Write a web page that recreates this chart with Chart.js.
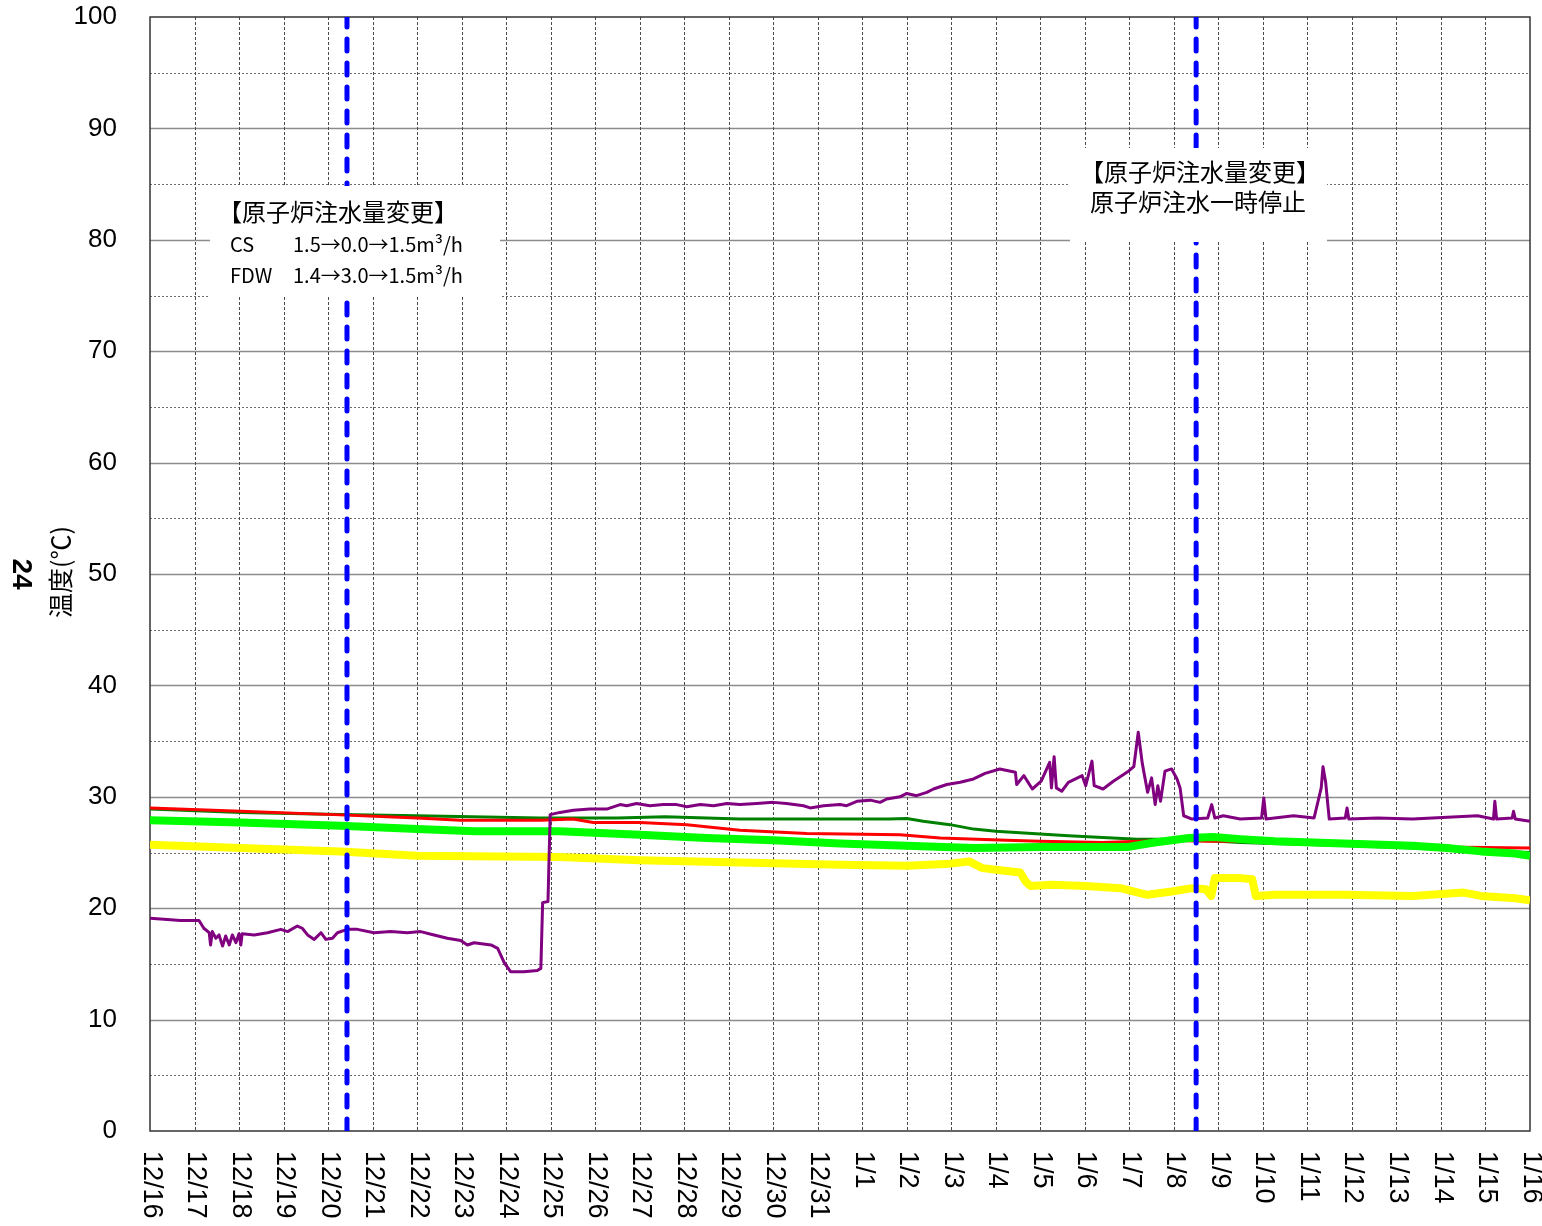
<!DOCTYPE html>
<html>
<head>
<meta charset="utf-8">
<script src="https://cdn.jsdelivr.net/npm/chart.js@4/dist/chart.umd.min.js"></script>
<style>
  html, body { margin: 0; padding: 0; background: #fff; }
  #wrap { width: 1542px; height: 1226px; }
</style>
</head>
<body>
<div id="wrap"><canvas id="chart" width="1542" height="1226"></canvas></div>
<script>
// x = days since 12/16 0:00, y = temperature (℃)
const dateLabels = ['12/16', '12/17', '12/18', '12/19', '12/20', '12/21', '12/22', '12/23', '12/24', '12/25',
  '12/26', '12/27', '12/28', '12/29', '12/30', '12/31', '1/1', '1/2', '1/3', '1/4', '1/5', '1/6', '1/7', '1/8',
  '1/9', '1/10', '1/11', '1/12', '1/13', '1/14', '1/15', '1/16'];
const yTicks = [0, 10, 20, 30, 40, 50, 60, 70, 80, 90, 100];

const purpleSeries = [[0, 19.1], [0.31, 19.0], [0.69, 18.9], [1.10, 18.9], [1.21, 18.2], [1.33, 17.8], [1.36, 16.7],
  [1.40, 17.9], [1.48, 17.3], [1.55, 17.6], [1.63, 16.6], [1.70, 17.5], [1.78, 16.7], [1.85, 17.6], [1.93, 16.9],
  [2.0, 17.7], [2.04, 16.7], [2.07, 17.7], [2.34, 17.6], [2.64, 17.8], [2.94, 18.1], [3.09, 17.9], [3.31, 18.4],
  [3.42, 18.2], [3.54, 17.6], [3.69, 17.2], [3.84, 17.8], [3.95, 17.2], [4.10, 17.3], [4.21, 17.8], [4.43, 18.1],
  [4.66, 18.1], [5.03, 17.8], [5.41, 17.9], [5.78, 17.8], [6.08, 17.9], [6.38, 17.6], [6.68, 17.3], [6.98, 17.1],
  [7.13, 16.7], [7.28, 16.9], [7.66, 16.7], [7.81, 16.4], [7.96, 15.1], [8.10, 14.3], [8.40, 14.3], [8.70, 14.4],
  [8.78, 14.6], [8.82, 20.5], [8.94, 20.6], [8.99, 28.4], [9.21, 28.6], [9.51, 28.8], [9.88, 28.9], [10.26, 28.9],
  [10.56, 29.3], [10.71, 29.2], [10.93, 29.4], [11.23, 29.2], [11.53, 29.3], [11.83, 29.3], [12.06, 29.1],
  [12.36, 29.3], [12.66, 29.2], [12.96, 29.4], [13.25, 29.3], [13.63, 29.4], [14.0, 29.5], [14.3, 29.4],
  [14.68, 29.2], [14.83, 29.0], [15.13, 29.2], [15.5, 29.3], [15.65, 29.2], [15.88, 29.6], [16.18, 29.7],
  [16.4, 29.5], [16.55, 29.8], [16.85, 30.0], [17.0, 30.3], [17.22, 30.1], [17.45, 30.4], [17.6, 30.7],
  [17.9, 31.1], [18.2, 31.3], [18.5, 31.6], [18.76, 32.1], [19.09, 32.5], [19.44, 32.2], [19.47, 31.1],
  [19.63, 31.9], [19.82, 30.7], [20.02, 31.4], [20.21, 33.1], [20.25, 30.8], [20.31, 33.6], [20.36, 30.8],
  [20.48, 30.5], [20.63, 31.3], [20.94, 31.9], [21.02, 31.0], [21.16, 33.2], [21.21, 31.0], [21.41, 30.7],
  [21.64, 31.4], [21.98, 32.3], [22.10, 32.7], [22.20, 35.8], [22.29, 33.0], [22.41, 30.4], [22.50, 31.7],
  [22.58, 29.3], [22.64, 31.0], [22.70, 29.6], [22.80, 32.3], [22.95, 32.5], [23.07, 31.6], [23.14, 30.8],
  [23.22, 28.3], [23.41, 28.0], [23.76, 28.1], [23.85, 29.3], [23.92, 28.1], [24.11, 28.3], [24.49, 28.0],
  [24.97, 28.1], [25.02, 29.9], [25.07, 28.0], [25.69, 28.3], [26.15, 28.1], [26.31, 30.8], [26.35, 32.7],
  [26.41, 31.3], [26.49, 28.0], [26.85, 28.1], [26.89, 29.0], [26.93, 28.0], [27.58, 28.1], [28.36, 28.0],
  [29.82, 28.3], [30.18, 28.0], [30.21, 29.6], [30.25, 28.0], [30.60, 28.1], [30.63, 28.7], [30.67, 28.0],
  [31.0, 27.8]];

const redSeries = [[0, 29.0], [2.04, 28.7], [4.13, 28.4], [6.0, 28.1], [6.98, 27.9], [8.78, 27.9], [9.5, 28.0],
  [9.96, 27.7], [11.0, 27.7], [12.06, 27.5], [13.25, 27.0], [14.75, 26.7], [16.85, 26.6], [17.75, 26.3],
  [19.25, 26.1], [20.0, 26.0], [21.4, 25.9], [22.95, 26.1], [23.7, 26.0], [24.5, 26.0], [27.0, 25.8],
  [29.0, 25.5], [31.0, 25.4]];

const darkGreenSeries = [[0, 28.9], [2.04, 28.6], [4.28, 28.4], [6.0, 28.3], [8.76, 28.1], [10.5, 28.1],
  [11.57, 28.2], [13.25, 28.0], [16.6, 28.0], [17.0, 28.05], [17.37, 27.8], [17.97, 27.5], [18.5, 27.1],
  [19.0, 26.9], [20.63, 26.5], [22.18, 26.2], [23.2, 26.2], [24.5, 25.9], [27.0, 25.6], [31.0, 25.0]];

const greenSeries = [[0, 27.9], [2.04, 27.7], [4.28, 27.4], [6.0, 27.1], [7.3, 26.9], [9.2, 26.9], [11.0, 26.6],
  [12.5, 26.3], [14.0, 26.1], [15.5, 25.8], [17.0, 25.6], [18.5, 25.4], [20.0, 25.5], [21.98, 25.5],
  [22.56, 25.9], [23.34, 26.3], [23.88, 26.4], [24.5, 26.2], [25.27, 26.0], [26.81, 25.8], [28.36, 25.6],
  [29.13, 25.4], [29.9, 25.1], [30.67, 24.9], [31.0, 24.7]];

const yellowSeries = [[0, 25.7], [2.04, 25.4], [4.28, 25.1], [6.0, 24.7], [9.2, 24.6], [11.0, 24.3], [13.25, 24.1],
  [15.5, 23.9], [17.0, 23.8], [17.97, 24.0], [18.4, 24.2], [18.7, 23.6], [19.1, 23.4], [19.55, 23.2],
  [19.67, 22.4], [19.78, 22.0], [20.25, 22.1], [21.02, 22.0], [21.8, 21.8], [22.4, 21.2], [22.95, 21.5],
  [23.41, 21.8], [23.72, 21.7], [23.84, 21.1], [23.92, 22.7], [24.49, 22.7], [24.76, 22.6], [24.84, 21.1],
  [25.27, 21.2], [26.04, 21.2], [26.81, 21.2], [28.36, 21.1], [29.51, 21.4], [29.9, 21.1], [30.67, 20.9],
  [31.0, 20.7]];

// injection change events (blue dashed lines)
const eventDays = [4.425, 23.5];

const note1Lines = ['【原子炉注水量変更】', 'CS', '1.5→0.0→1.5m³/h', 'FDW', '1.4→3.0→1.5m³/h'];
const note2Lines = ['【原子炉注水量変更】', '原子炉注水一時停止'];

const toXY = (arr) => arr.map(([d, v]) => ({ x: d, y: v }));

const JP = '"Noto Sans CJK JP", "Liberation Sans", sans-serif';
const LAT = '"Liberation Sans", "Noto Sans CJK JP", sans-serif';

const gridPlugin = {
  id: 'sheetGrid',
  beforeDatasetsDraw(chart) {
    const { ctx, chartArea: a, scales: { x, y } } = chart;
    ctx.save();
    for (let v = 5; v < 100; v += 5) {
      const py = Math.round(y.getPixelForValue(v)) + 0.5;
      if (v % 10 === 0) {
        ctx.setLineDash([]);
        ctx.strokeStyle = '#8c8c8c';
        ctx.lineWidth = 1.5;
      } else {
        ctx.setLineDash([2, 2]);
        ctx.strokeStyle = '#6e6e6e';
        ctx.lineWidth = 1;
      }
      ctx.beginPath();
      ctx.moveTo(a.left, py);
      ctx.lineTo(a.right, py);
      ctx.stroke();
    }
    ctx.setLineDash([3, 2]);
    ctx.strokeStyle = '#4a4a4a';
    ctx.lineWidth = 1;
    for (let d = 1; d < dateLabels.length - 1; d++) {
      const px = Math.round(x.getPixelForValue(d)) + 0.5;
      ctx.beginPath();
      ctx.moveTo(px, a.top);
      ctx.lineTo(px, a.bottom);
      ctx.stroke();
    }
    ctx.setLineDash([]);
    ctx.strokeStyle = '#333';
    ctx.lineWidth = 1.5;
    ctx.strokeRect(a.left, a.top, a.right - a.left, a.bottom - a.top);
    ctx.restore();
  }
};

const notePlugin = {
  id: 'notes',
  afterDatasetsDraw(chart) {
    const ctx = chart.ctx;
    ctx.save();
    ctx.fillStyle = '#fff';
    ctx.fillRect(210, 186, 290, 111);
    ctx.fillRect(1070, 148, 257, 94);
    ctx.fillStyle = '#000';
    ctx.textBaseline = 'middle';
    ctx.textAlign = 'left';
    ctx.font = '24px ' + JP;
    ctx.fillText(note1Lines[0], 218, 212);
    ctx.font = '20px ' + JP;
    ctx.fillText(note1Lines[1], 230, 244);
    ctx.fillText(note1Lines[2], 293, 244);
    ctx.fillText(note1Lines[3], 230, 275);
    ctx.fillText(note1Lines[4], 293, 275);
    ctx.font = '24px ' + JP;
    ctx.fillText(note2Lines[0], 1080, 172);
    ctx.fillText(note2Lines[1], 1090, 202);
    ctx.restore();
  }
};

const labelPlugin = {
  id: 'axisLabels',
  afterDraw(chart) {
    const { ctx, scales: { x } } = chart;
    ctx.save();
    ctx.fillStyle = '#000';
    ctx.font = '27px ' + LAT;
    ctx.textAlign = 'left';
    ctx.textBaseline = 'middle';
    dateLabels.forEach((lab, i) => {
      ctx.save();
      ctx.translate(x.getPixelForValue(i) + 1, 1151);
      ctx.rotate(Math.PI / 2);
      ctx.fillText(lab, 0, 0);
      ctx.restore();
    });
    // axis title
    ctx.textAlign = 'center';
    ctx.save();
    ctx.translate(60, 572);
    ctx.rotate(-Math.PI / 2);
    ctx.font = '25px ' + JP;
    ctx.fillText('温度(℃)', 0, 0);
    ctx.restore();
    ctx.save();
    ctx.translate(21, 574);
    ctx.rotate(Math.PI / 2);
    ctx.font = 'bold 28px ' + LAT;
    ctx.fillText('24', 0, 0);
    ctx.restore();
    ctx.restore();
  }
};

const eventSets = eventDays.map((d) => ({
  data: [{ x: d, y: 0 }, { x: d, y: 100 }],
  borderColor: '#0000ff',
  borderWidth: 5,
  borderDash: [12, 12],
  borderCapStyle: 'round',
  order: 0
}));

new Chart(document.getElementById('chart'), {
  type: 'line',
  data: {
    datasets: [
      ...eventSets,
      { data: toXY(purpleSeries), borderColor: '#800080', borderWidth: 3, order: 1 },
      { data: toXY(greenSeries), borderColor: '#00ff00', borderWidth: 8, order: 2 },
      { data: toXY(yellowSeries), borderColor: '#ffff00', borderWidth: 8, order: 3 },
      { data: toXY(redSeries), borderColor: '#ff0000', borderWidth: 3, order: 4 },
      { data: toXY(darkGreenSeries), borderColor: '#008000', borderWidth: 3, order: 5 }
    ]
  },
  options: {
    responsive: false,
    animation: false,
    devicePixelRatio: 1,
    layout: { padding: { top: 17, right: 12, left: 0, bottom: 0 } },
    plugins: { legend: { display: false }, tooltip: { enabled: false } },
    elements: { point: { radius: 0 }, line: { tension: 0, borderJoinStyle: 'round' } },
    scales: {
      x: {
        type: 'linear', min: 0, max: dateLabels.length - 1,
        grid: { display: false }, border: { display: false }, ticks: { display: false },
        afterFit(s) { s.height = 95; s.paddingLeft = 0; s.paddingRight = 0; }
      },
      y: {
        min: yTicks[0], max: yTicks[yTicks.length - 1],
        afterBuildTicks(s) { s.ticks = yTicks.map((v) => ({ value: v })); },
        ticks: { color: '#000', font: { family: 'Liberation Sans', size: 26 }, padding: 33 },
        grid: { display: false, drawTicks: false }, border: { display: false },
        afterFit(s) { s.width = 150; s.paddingTop = 0; s.paddingBottom = 0; }
      }
    }
  },
  plugins: [gridPlugin, notePlugin, labelPlugin]
});
</script>
</body>
</html>
